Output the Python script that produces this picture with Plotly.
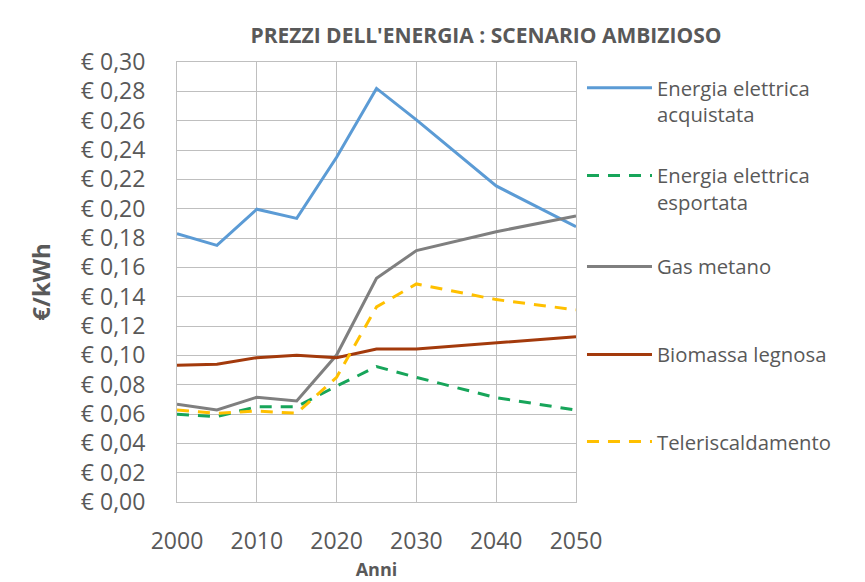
import plotly.graph_objects as go

# anni e prezzi (€/kWh)
anni = [2000, 2005, 2010, 2015, 2020, 2025, 2030, 2040, 2050]

el_acquistata = [0.183, 0.175, 0.1996, 0.1934, 0.235, 0.282, 0.2605, 0.2155, 0.1877]
el_esportata = [0.0598, 0.0582, 0.065, 0.065, 0.079, 0.0923, 0.085, 0.0711, 0.0627]
gas_metano = [0.0666, 0.0627, 0.0714, 0.0689, 0.1002, 0.1525, 0.1714, 0.1843, 0.195]
biomassa = [0.0932, 0.094, 0.0984, 0.100, 0.0984, 0.1043, 0.1043, 0.1086, 0.1127]
teleriscaldamento = [0.0627, 0.0605, 0.062, 0.0605, 0.085, 0.133, 0.1487, 0.138, 0.131]

nomi = ["Energia elettrica<br>acquistata", "Energia elettrica<br>esportata",
        "Gas metano", "Biomassa legnosa", "Teleriscaldamento"]

y_ticks = [0.00, 0.02, 0.04, 0.06, 0.08, 0.10, 0.12, 0.14, 0.16, 0.18, 0.20,
           0.22, 0.24, 0.26, 0.28, 0.30]
y_labels = ["€ 0,00", "€ 0,02", "€ 0,04", "€ 0,06", "€ 0,08", "€ 0,10", "€ 0,12",
            "€ 0,14", "€ 0,16", "€ 0,18", "€ 0,20", "€ 0,22", "€ 0,24", "€ 0,26",
            "€ 0,28", "€ 0,30"]
x_ticks = [2000, 2010, 2020, 2030, 2040, 2050]

FONT = "Open Sans"
TXT = "#595959"

serie = [
    (el_acquistata, "#5B9BD5", "solid"),
    (el_esportata, "#17A55A", "12px,9px"),
    (gas_metano, "#7F7F7F", "solid"),
    (biomassa, "#A33A0C", "solid"),
    (teleriscaldamento, "#FFC000", "12px,9px"),
]
# posizione verticale (paper) di ogni voce di legenda
leg_y = [0.986, 0.787, 0.580, 0.380, 0.182]

# la pagina html ha 8px di margine: la figura è un po' più piccola della finestra
W, H = 857, 574

fig = go.Figure()
for i, ((vals, col, dash), nome) in enumerate(zip(serie, nomi)):
    lg = "legend" if i == 0 else f"legend{i+1}"
    fig.add_trace(go.Scatter(
        x=anni, y=vals, name=nome, mode="lines",
        line=dict(color=col, width=3, dash=dash),
        legend=lg,
    ))

legends = {}
for i, yy in enumerate(leg_y):
    key = "legend" if i == 0 else f"legend{i+1}"
    legends[key] = dict(
        x=1.015, y=yy, xanchor="left", yanchor="top",
        bgcolor="rgba(0,0,0,0)", itemwidth=65, valign="top",
        font=dict(family=FONT, size=20.3, color=TXT),
        itemclick=False,
    )

fig.update_layout(
    width=W, height=H,
    margin=dict(l=169, r=289, t=54, b=80, autoexpand=False),
    paper_bgcolor="white", plot_bgcolor="white",
    title=dict(text="<b>PREZZI DELL'ENERGIA : SCENARIO AMBIZIOSO</b>",
               x=478 / W, xanchor="center", y=1 - 27.5 / H, yanchor="middle",
               font=dict(family=FONT, size=21, color=TXT)),
    showlegend=True,
    **legends,
)

fig.update_xaxes(
    range=[2000, 2050], tickvals=x_ticks,
    tickfont=dict(family=FONT, size=23, color=TXT),
    showgrid=True, gridcolor="#BFBFBF", gridwidth=1,
    showline=True, linecolor="#BFBFBF", mirror=True,
    ticks="", ticklabelstandoff=18, zeroline=False,
    title=dict(text="<b>Anni</b>", font=dict(family=FONT, size=18, color=TXT), standoff=8),
)
fig.update_yaxes(
    range=[0, 0.30], tickvals=y_ticks, ticktext=y_labels,
    tickfont=dict(family=FONT, size=23, color=TXT),
    showgrid=True, gridcolor="#BFBFBF", gridwidth=1,
    showline=True, linecolor="#BFBFBF", mirror=True,
    ticks="", ticklabelstandoff=26, zeroline=False,
    title=dict(text="<b>€/kWh</b>", font=dict(family=FONT, size=24, color=TXT), standoff=23),
)

fig.write_html("out.html")
